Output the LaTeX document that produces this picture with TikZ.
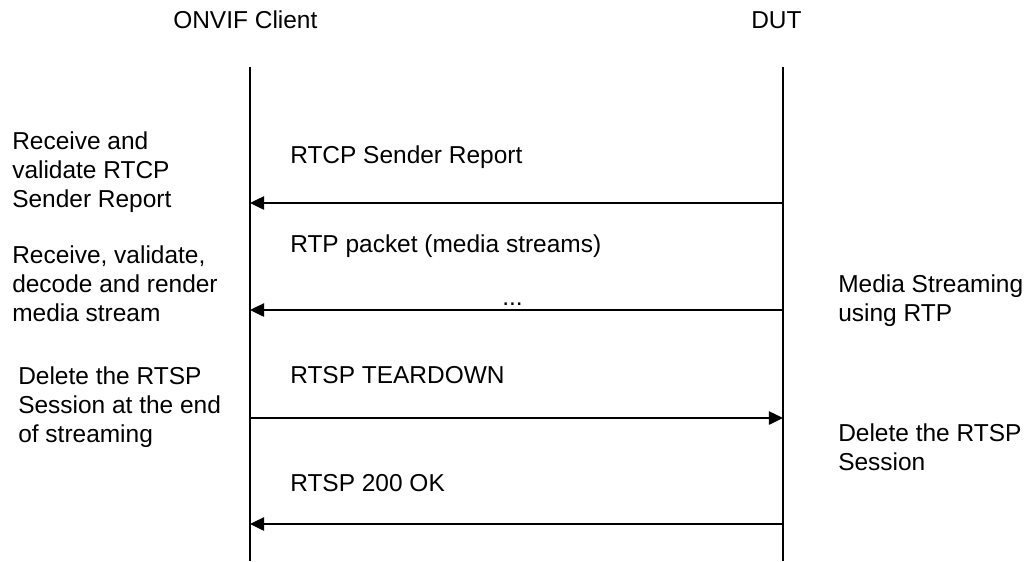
\documentclass[tikz,border=0pt]{standalone}
\usepackage{fontspec}
\setmainfont{Liberation Sans}
\usetikzlibrary{arrows.meta, positioning, calc}
\tikzset{
    lifeline/.style={draw=black, line width=1.05pt},
    msgarrow/.style={-{Triangle[length=10pt,width=9.5pt]}, line width=1.05pt, draw=black},
    actor/.style={anchor=base west, inner sep=0pt, font=\fontsize{17.4}{20.6}\selectfont},
    msglabel/.style={anchor=base west, inner sep=0pt, font=\fontsize{17.4}{20.6}\selectfont},
    % base of a multi-line note is the baseline of its last line
    sidenote/.style={anchor=base west, inner sep=0pt, align=left, font=\fontsize{17.4}{20.6}\selectfont}
}
\begin{document}
\begin{tikzpicture}[x=0.025cm,y=-0.025cm]
    \useasboundingbox (0,0) rectangle (1029,561);

    % participants
    \node[actor] (client) at (173,28) {ONVIF Client};
    \node[actor] (dut) at (751,28) {DUT};
    \foreach \name/\x in {client/250,dut/783} {
        \coordinate (\name Top) at (\x,67);
        \coordinate (\name Bot) at (\x,561);
        \draw[lifeline] (\name Top) -- (\name Bot);
    }

    % message end points
    \foreach \i/\y in {1/203,2/310,3/418,4/524} {
        \coordinate (c\i) at (250,\y);
        \coordinate (d\i) at (783,\y);
    }

    \draw[msgarrow] (d1) -- (c1);
    \draw[msgarrow] (d2) -- (c2);
    \draw[msgarrow] (c3) -- (d3);
    \draw[msgarrow] (d4) -- (c4);

    \node[msglabel] (rtcp) at (290,163) {RTCP Sender Report};
    \node[msglabel] (rtp) at (290,252) {RTP packet (media streams)};
    \node[msglabel] (dots) at (502,305) {...};
    \node[msglabel] (teardown) at (290,383) {RTSP TEARDOWN};
    \node[msglabel] (ok) at (290,491) {RTSP 200 OK};

    % client side notes
    \node[sidenote] (noteRtcp) at (12,207) {Receive and\\validate RTCP\\Sender Report};
    \node[sidenote] (noteMedia) at (12,321) {Receive, validate,\\decode and render\\media stream};
    \node[sidenote] (noteDelete) at (18,442) {Delete the RTSP\\Session at the end\\of streaming};

    % DUT side notes
    \node[sidenote] (noteStream) at (838,321) {Media Streaming\\using RTP};
    \node[sidenote] (noteSession) at (838,470) {Delete the RTSP\\Session};
\end{tikzpicture}
\end{document}
